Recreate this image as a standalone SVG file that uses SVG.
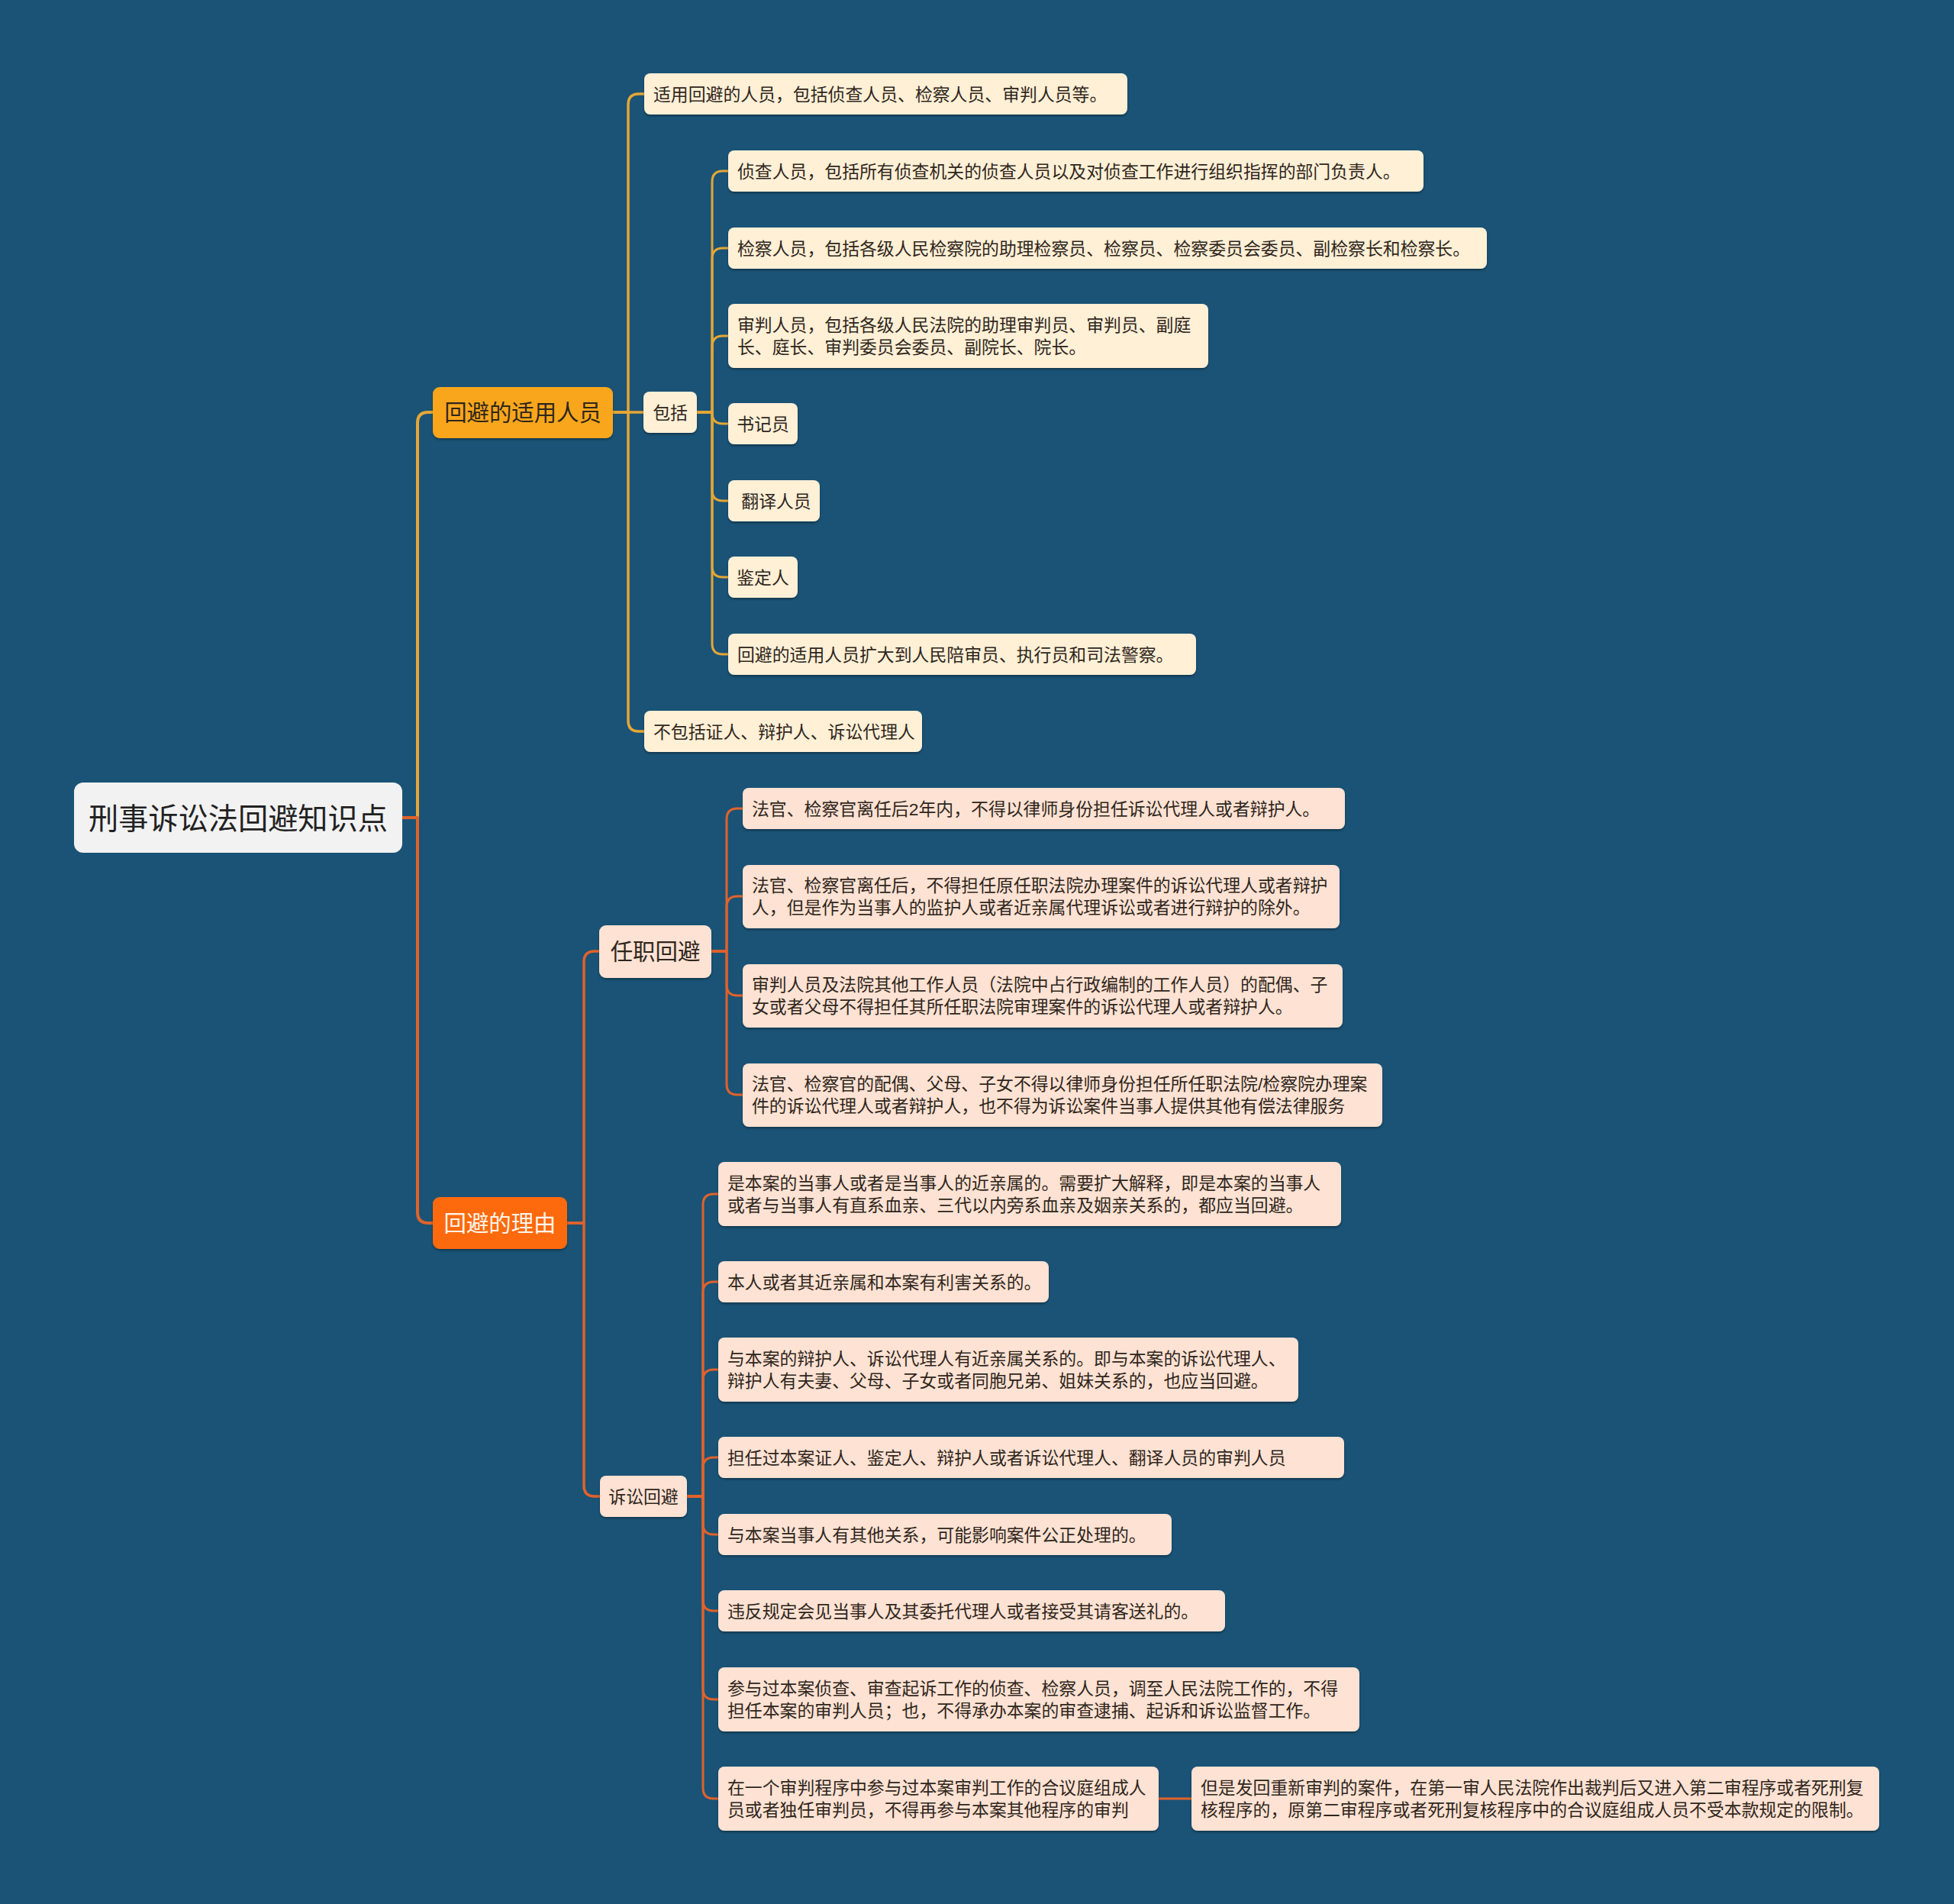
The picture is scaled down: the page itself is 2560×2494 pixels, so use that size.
<svg xmlns="http://www.w3.org/2000/svg" width="2560" height="2494" viewBox="0 0 2560 2494">
<defs>
<filter id="sh" x="-5%" y="-20%" width="110%" height="150%">
<feDropShadow dx="0" dy="2" stdDeviation="1.5" flood-color="#000" flood-opacity="0.35"/>
</filter>
<style>
text{font-family:"Liberation Sans","Noto Sans CJK SC",sans-serif;fill:#2f261c}
.t{font-size:22.86px}
.m{font-size:29.4px}
.r{font-size:39.2px;fill:#222}
.cream{fill:#fff0d6;filter:url(#sh)}
.peach{fill:#fee2d3;filter:url(#sh)}
.ly{fill:none;stroke:#e6a635;stroke-width:3.5;stroke-linecap:round;stroke-linejoin:round}
.lo{fill:none;stroke:#e2622a;stroke-width:3.5;stroke-linecap:round;stroke-linejoin:round}
.w{fill:#fff6ee}
</style>
</defs>
<rect width="2560" height="2494" fill="#1a5376"/>
<g id="connectors">
<path class="ly" style="stroke-width:4" d="M527,1071 H547 V554 Q547,540 561,540 H567"/>
<path class="lo" style="stroke-width:4" d="M527,1071 H547 V1588 Q547,1602 561,1602 H567"/>
<path class="ly" d="M803,540 H823 V137 Q823,123 837,123 H844"/>
<path class="ly" d="M803,540 H843"/>
<path class="ly" d="M803,540 H823 V944 Q823,958 837,958 H844"/>
<path class="ly" style="stroke-width:3" d="M913,540 H933 V238 Q933,224 947,224 H954"/>
<path class="ly" style="stroke-width:3" d="M913,540 H933 V339 Q933,325 947,325 H954"/>
<path class="ly" style="stroke-width:3" d="M913,540 H933 V454 Q933,440 947,440 H954"/>
<path class="ly" style="stroke-width:3" d="M913,540 H933 V541 Q933,555 947,555 H954"/>
<path class="ly" style="stroke-width:3" d="M913,540 H933 V642 Q933,656 947,656 H954"/>
<path class="ly" style="stroke-width:3" d="M913,540 H933 V742 Q933,756 947,756 H954"/>
<path class="ly" style="stroke-width:3" d="M913,540 H933 V843 Q933,857 947,857 H954"/>
<path class="lo" d="M743,1602 H765 V1260 Q765,1246 779,1246 H785"/>
<path class="lo" d="M743,1602 H765 V1946 Q765,1960 779,1960 H786"/>
<path class="lo" style="stroke-width:3" d="M932,1246 H952 V1073 Q952,1059 966,1059 H973"/>
<path class="lo" style="stroke-width:3" d="M932,1246 H952 V1188 Q952,1174 966,1174 H973"/>
<path class="lo" style="stroke-width:3" d="M932,1246 H952 V1290 Q952,1304 966,1304 H973"/>
<path class="lo" style="stroke-width:3" d="M932,1246 H952 V1420 Q952,1434 966,1434 H973"/>
<path class="lo" style="stroke-width:3" d="M900,1960 H921 V1578 Q921,1564 935,1564 H941"/>
<path class="lo" style="stroke-width:3" d="M900,1960 H921 V1693 Q921,1679 935,1679 H941"/>
<path class="lo" style="stroke-width:3" d="M900,1960 H921 V1808 Q921,1794 935,1794 H941"/>
<path class="lo" style="stroke-width:3" d="M900,1960 H921 V1923 Q921,1909 935,1909 H941"/>
<path class="lo" style="stroke-width:3" d="M900,1960 H921 V1996 Q921,2010 935,2010 H941"/>
<path class="lo" style="stroke-width:3" d="M900,1960 H921 V2096 Q921,2110 935,2110 H941"/>
<path class="lo" style="stroke-width:3" d="M900,1960 H921 V2212 Q921,2226 935,2226 H941"/>
<path class="lo" style="stroke-width:3" d="M900,1960 H921 V2342 Q921,2356 935,2356 H941"/>
<path class="lo" style="stroke-width:3" d="M1518,2356 H1561"/>
</g>
<g id="root">
<rect x="97" y="1025" width="430" height="92" rx="12" fill="#f2f2f2"/>
<text class="r" x="312" y="1086" text-anchor="middle">刑事诉讼法回避知识点</text>
</g>
<g id="n-shiyong">
<rect x="567" y="507" width="236" height="67" rx="9" fill="#faa61f" filter="url(#sh)"/>
<text class="m" x="685" y="551" text-anchor="middle">回避的适用人员</text>
</g>
<g id="n-liyou">
<rect x="567" y="1568" width="176" height="68" rx="9" fill="#fc6a0b" filter="url(#sh)"/>
<text class="m w" x="655" y="1613" text-anchor="middle">回避的理由</text>
</g>
<g id="n-t1">
<rect class="cream" x="844" y="96" width="633" height="54" rx="8"/>
<text class="t" x="856" y="132">适用回避的人员，包括侦查人员、检察人员、审判人员等。</text>
</g>
<g id="n-baokuo">
<rect class="cream" x="843" y="513" width="70" height="54" rx="8"/>
<text class="t" x="878" y="549" text-anchor="middle">包括</text>
</g>
<g id="n-a">
<rect class="cream" x="954" y="197" width="911" height="54" rx="8"/>
<text class="t" x="966" y="233">侦查人员，包括所有侦查机关的侦查人员以及对侦查工作进行组织指挥的部门负责人。</text>
</g>
<g id="n-b">
<rect class="cream" x="954" y="298" width="994" height="54" rx="8"/>
<text class="t" x="966" y="334">检察人员，包括各级人民检察院的助理检察员、检察员、检察委员会委员、副检察长和检察长。</text>
</g>
<g id="n-c">
<rect class="cream" x="954" y="398" width="629" height="84" rx="8"/>
<text class="t" x="966" y="434">审判人员，包括各级人民法院的助理审判员、审判员、副庭</text>
<text class="t" x="966" y="463">长、庭长、审判委员会委员、副院长、院长。</text>
</g>
<g id="n-d">
<rect class="cream" x="954" y="528" width="91" height="54" rx="8"/>
<text class="t" x="999.5" y="564" text-anchor="middle">书记员</text>
</g>
<g id="n-e">
<rect class="cream" x="954" y="629" width="120" height="54" rx="8"/>
<text class="t" x="1017" y="665" text-anchor="middle">翻译人员</text>
</g>
<g id="n-f">
<rect class="cream" x="954" y="729" width="91" height="54" rx="8"/>
<text class="t" x="999.5" y="765" text-anchor="middle">鉴定人</text>
</g>
<g id="n-g">
<rect class="cream" x="954" y="830" width="613" height="54" rx="8"/>
<text class="t" x="966" y="866">回避的适用人员扩大到人民陪审员、执行员和司法警察。</text>
</g>
<g id="n-t3">
<rect class="cream" x="844" y="931" width="364" height="54" rx="8"/>
<text class="t" x="856" y="967">不包括证人、辩护人、诉讼代理人</text>
</g>
<g id="n-renzhi">
<rect class="peach" x="785" y="1212" width="147" height="69" rx="9"/>
<text class="m" x="858.5" y="1257" text-anchor="middle">任职回避</text>
</g>
<g id="n-susong">
<rect class="peach" x="786" y="1933" width="114" height="54" rx="8"/>
<text class="t" x="843" y="1969" text-anchor="middle">诉讼回避</text>
</g>
<g id="n-r1">
<rect class="peach" x="973" y="1032" width="789" height="54" rx="8"/>
<text class="t" x="985" y="1068">法官、检察官离任后2年内，不得以律师身份担任诉讼代理人或者辩护人。</text>
</g>
<g id="n-r2">
<rect class="peach" x="973" y="1133" width="782" height="83" rx="8"/>
<text class="t" x="985" y="1168">法官、检察官离任后，不得担任原任职法院办理案件的诉讼代理人或者辩护</text>
<text class="t" x="985" y="1197">人，但是作为当事人的监护人或者近亲属代理诉讼或者进行辩护的除外。</text>
</g>
<g id="n-r3">
<rect class="peach" x="973" y="1263" width="786" height="83" rx="8"/>
<text class="t" x="985" y="1298">审判人员及法院其他工作人员（法院中占行政编制的工作人员）的配偶、子</text>
<text class="t" x="985" y="1327">女或者父母不得担任其所任职法院审理案件的诉讼代理人或者辩护人。</text>
</g>
<g id="n-r4">
<rect class="peach" x="973" y="1393" width="838" height="83" rx="8"/>
<text class="t" x="985" y="1428">法官、检察官的配偶、父母、子女不得以律师身份担任所任职法院/检察院办理案</text>
<text class="t" x="985" y="1457">件的诉讼代理人或者辩护人，也不得为诉讼案件当事人提供其他有偿法律服务</text>
</g>
<g id="n-s1">
<rect class="peach" x="941" y="1522" width="816" height="84" rx="8"/>
<text class="t" x="953" y="1558">是本案的当事人或者是当事人的近亲属的。需要扩大解释，即是本案的当事人</text>
<text class="t" x="953" y="1587">或者与当事人有直系血亲、三代以内旁系血亲及姻亲关系的，都应当回避。</text>
</g>
<g id="n-s2">
<rect class="peach" x="941" y="1652" width="433" height="54" rx="8"/>
<text class="t" x="953" y="1688">本人或者其近亲属和本案有利害关系的。</text>
</g>
<g id="n-s3">
<rect class="peach" x="941" y="1752" width="760" height="84" rx="8"/>
<text class="t" x="953" y="1788">与本案的辩护人、诉讼代理人有近亲属关系的。即与本案的诉讼代理人、</text>
<text class="t" x="953" y="1817">辩护人有夫妻、父母、子女或者同胞兄弟、姐妹关系的，也应当回避。</text>
</g>
<g id="n-s4">
<rect class="peach" x="941" y="1882" width="820" height="54" rx="8"/>
<text class="t" x="953" y="1918">担任过本案证人、鉴定人、辩护人或者诉讼代理人、翻译人员的审判人员</text>
</g>
<g id="n-s5">
<rect class="peach" x="941" y="1983" width="594" height="54" rx="8"/>
<text class="t" x="953" y="2019">与本案当事人有其他关系，可能影响案件公正处理的。</text>
</g>
<g id="n-s6">
<rect class="peach" x="941" y="2083" width="664" height="54" rx="8"/>
<text class="t" x="953" y="2119">违反规定会见当事人及其委托代理人或者接受其请客送礼的。</text>
</g>
<g id="n-s7">
<rect class="peach" x="941" y="2184" width="840" height="84" rx="8"/>
<text class="t" x="953" y="2220">参与过本案侦查、审查起诉工作的侦查、检察人员，调至人民法院工作的，不得</text>
<text class="t" x="953" y="2249">担任本案的审判人员；也，不得承办本案的审查逮捕、起诉和诉讼监督工作。</text>
</g>
<g id="n-s8">
<rect class="peach" x="941" y="2314" width="577" height="84" rx="8"/>
<text class="t" x="953" y="2350">在一个审判程序中参与过本案审判工作的合议庭组成人</text>
<text class="t" x="953" y="2379">员或者独任审判员，不得再参与本案其他程序的审判</text>
</g>
<g id="n-s9">
<rect class="peach" x="1561" y="2314" width="901" height="84" rx="8"/>
<text class="t" x="1573" y="2350">但是发回重新审判的案件，在第一审人民法院作出裁判后又进入第二审程序或者死刑复</text>
<text class="t" x="1573" y="2379">核程序的，原第二审程序或者死刑复核程序中的合议庭组成人员不受本款规定的限制。</text>
</g>
</svg>
